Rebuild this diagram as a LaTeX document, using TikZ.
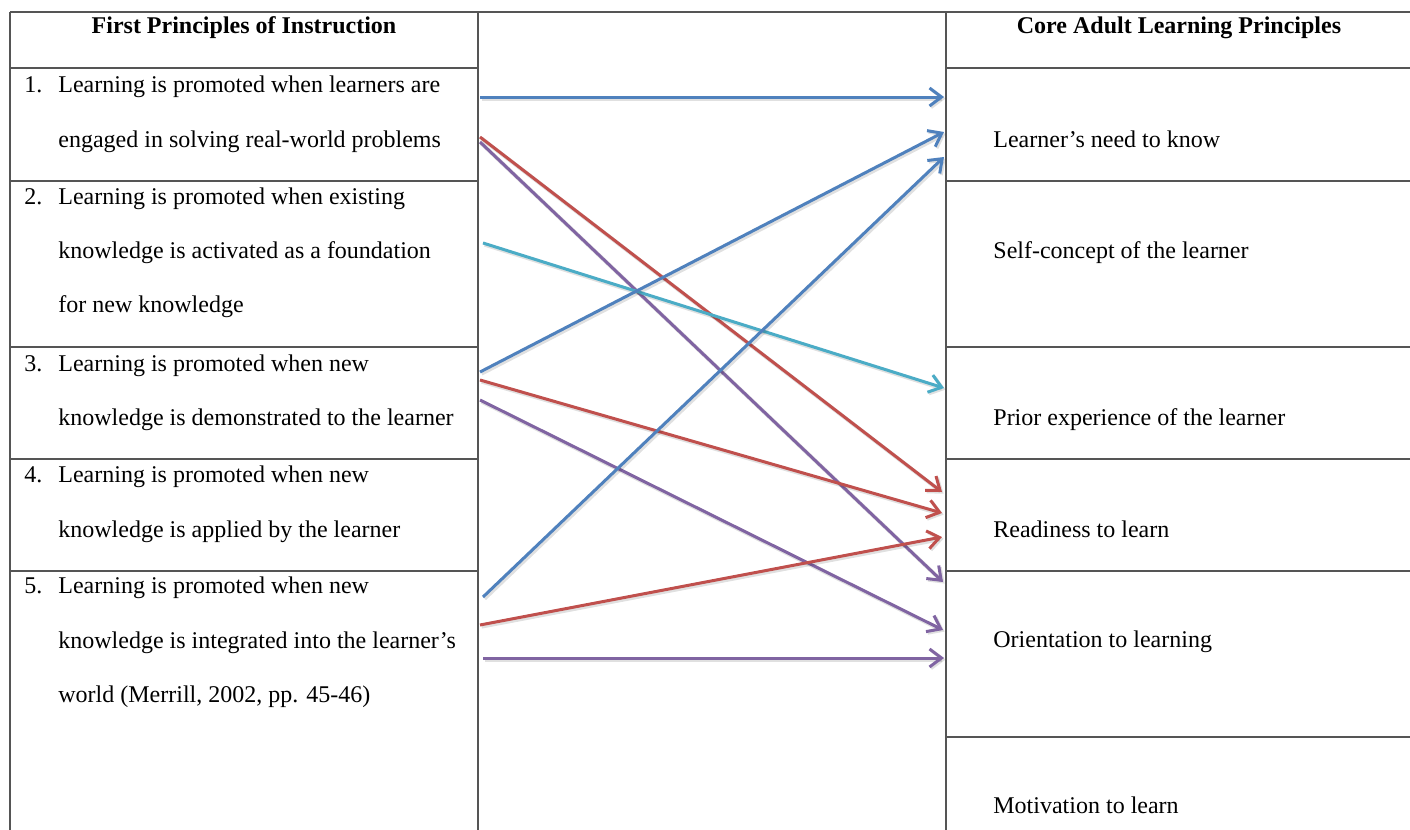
\documentclass[tikz,border=0pt]{standalone}
\usepackage{fontspec}
\setmainfont{Liberation Serif}
\usetikzlibrary{arrows.meta}
\definecolor{oblue}{HTML}{4F81BD}
\definecolor{ored}{HTML}{C0504D}
\definecolor{opurple}{HTML}{8064A2}
\definecolor{oteal}{HTML}{4BACC6}
\definecolor{gridc}{HTML}{555555}
\begin{document}
\begin{tikzpicture}[x=0.5pt,y=-0.5pt,
  gridline/.style={draw=gridc,line width=1pt},
  txt/.style={anchor=base west,inner sep=0pt,font=\fontsize{12}{14}\selectfont},
  num/.style={anchor=base west,inner sep=0pt,font=\fontsize{12}{14}\selectfont},
  hdr/.style={anchor=base,inner sep=0pt,font=\fontsize{12}{14}\selectfont\bfseries},
  conn/.style={line width=1.5pt,
    -{Straight Barb[length=6pt,width=9pt,line width=1.5pt]},
    preaction={draw=black,opacity=0.12,line width=2pt,
      transform canvas={shift={(0.8pt,-0.8pt)}}}}]
\useasboundingbox (0,0) rectangle (1410,830);
\fill[white] (0,0) rectangle (1410,830);

% table grid
\draw[gridline] (10,12) -- (1410,12);
\draw[gridline] (10,12) -- (10,830);
\draw[gridline] (478,12) -- (478,830);
\draw[gridline] (946,12) -- (946,830);
\foreach \yy in {68,181,347,459,571} \draw[gridline] (10,\yy) -- (478,\yy);
\foreach \yy in {68,181,347,459,571,737} \draw[gridline] (946,\yy) -- (1410,\yy);

% headers
\node[hdr] (hl) at (244,33) {First Principles of Instruction};
\node[hdr] (hr) at (1179,33) {Core Adult Learning Principles};

% left column
\node[num] (n1) at (24,92) {1.};
\node[txt] (l1a) at (58,92) {Learning is promoted when learners are};
\node[txt] (l1b) at (58,147) {engaged in solving real-world problems};
\node[num] (n2) at (24,204) {2.};
\node[txt] (l2a) at (58,204) {Learning is promoted when existing};
\node[txt] (l2b) at (58,258) {knowledge is activated as a foundation};
\node[txt] (l2c) at (58,312) {for new knowledge};
\node[num] (n3) at (24,371) {3.};
\node[txt] (l3a) at (58,371) {Learning is promoted when new};
\node[txt] (l3b) at (58,425) {knowledge is demonstrated to the learner};
\node[num] (n4) at (24,482) {4.};
\node[txt] (l4a) at (58,482) {Learning is promoted when new};
\node[txt] (l4b) at (58,537) {knowledge is applied by the learner};
\node[num] (n5) at (24,593) {5.};
\node[txt] (l5a) at (58,593) {Learning is promoted when new};
\node[txt] (l5b) at (58,648) {knowledge is integrated into the learner’s};
\node[txt] (l5c) at (58,702) {world (Merrill, 2002, pp. 45-46)};

% right column
\node[txt] (r1) at (993,147) {Learner’s need to know};
\node[txt] (r2) at (993,258) {Self-concept of the learner};
\node[txt] (r3) at (993,425) {Prior experience of the learner};
\node[txt] (r4) at (993,537) {Readiness to learn};
\node[txt] (r5) at (993,647) {Orientation to learning};
\node[txt] (r6) at (993,813) {Motivation to learn};

% connector end points
\coordinate (s1a) at (480,97);
\coordinate (s1b) at (480,137);
\coordinate (s1c) at (480,142);
\coordinate (s2a) at (483,243);
\coordinate (s3a) at (480,372);
\coordinate (s3b) at (480,380);
\coordinate (s3c) at (480,400);
\coordinate (s5a) at (483,597);
\coordinate (s5b) at (480,625);
\coordinate (s5c) at (483,658);

\coordinate (t1a) at (944,97);
\coordinate (t1b) at (944,132);
\coordinate (t1c) at (944,157);
\coordinate (t3a) at (944,388);
\coordinate (t4a) at (942,492);
\coordinate (t4b) at (942,513);
\coordinate (t4c) at (942,537);
\coordinate (t5a) at (943,582);
\coordinate (t5b) at (943,630);
\coordinate (t5c) at (944,658);

% connectors
\draw[conn,oblue] (s1a) -- (t1a);
\draw[conn,opurple] (s1c) -- (t5a);
\draw[conn,ored] (s1b) -- (t4a);
\draw[conn,oteal] (s2a) -- (t3a);
\draw[conn,oblue] (s3a) -- (t1b);
\draw[conn,opurple] (s3c) -- (t5b);
\draw[conn,ored] (s3b) -- (t4b);
\draw[conn,oblue] (s5a) -- (t1c);
\draw[conn,ored] (s5b) -- (t4c);
\draw[conn,opurple] (s5c) -- (t5c);
\end{tikzpicture}
\end{document}
